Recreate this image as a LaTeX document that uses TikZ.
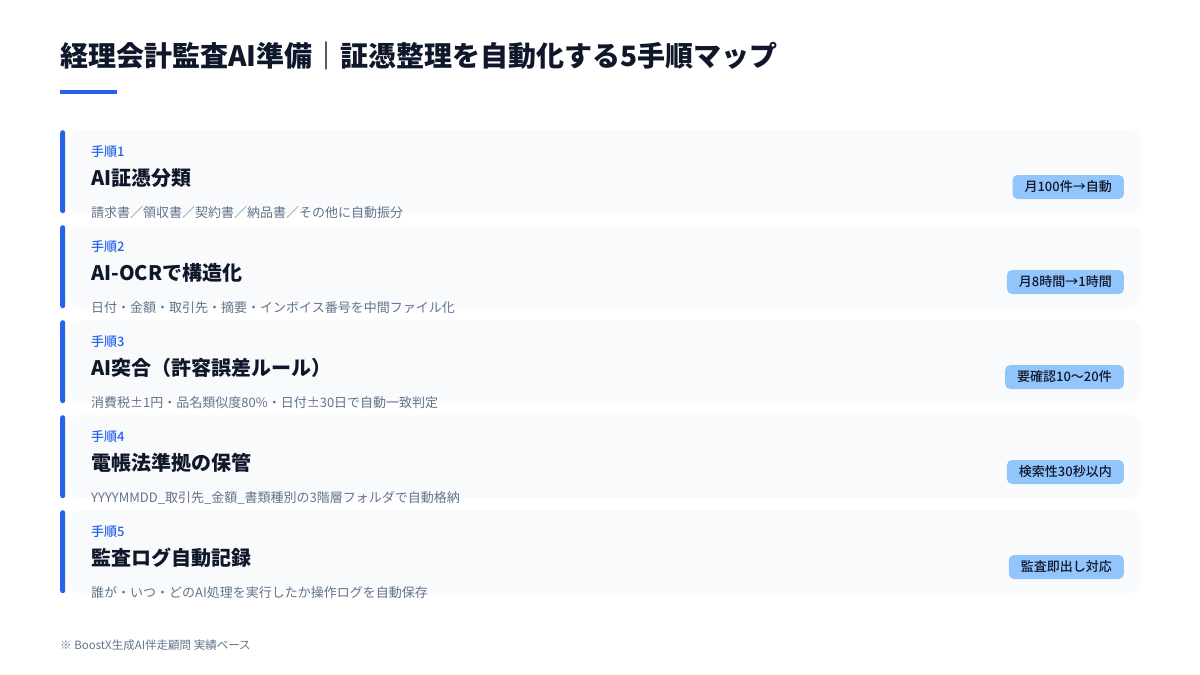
\documentclass[tikz,border=0pt]{standalone}
\usepackage{fontspec}
\setmainfont{Noto Sans CJK JP}
\newfontfamily\mediumfont{Noto Sans CJK JP Medium}
\usetikzlibrary{positioning}

\definecolor{accent}{HTML}{2563EB}
\definecolor{ink}{HTML}{0F172A}
\definecolor{muted}{HTML}{64748B}
\definecolor{cardbg}{HTML}{F8FAFC}
\definecolor{badgebg}{HTML}{93C5FD}

\tikzset{
  card/.style={fill=cardbg, rounded corners=10pt, minimum width=1070pt, minimum height=83pt, anchor=north west, inner sep=0pt},
  bar/.style={fill=accent, rounded corners=2.5pt, minimum width=5pt, minimum height=83pt, anchor=north west, inner sep=0pt},
  steplabel/.style={anchor=west, inner sep=0pt, text=accent, font=\mediumfont\fontsize{13}{13}\selectfont},
  steptitle/.style={anchor=west, inner sep=0pt, text=ink, font=\bfseries\fontsize{20}{20}\selectfont},
  stepdesc/.style={anchor=west, inner sep=0pt, text=muted, font=\fontsize{13}{13}\selectfont},
  badge/.style={anchor=east, fill=badgebg, rounded corners=5pt, inner xsep=12pt, inner ysep=0pt, minimum height=24pt, text=ink, font=\mediumfont\fontsize{13}{13}\selectfont}
}

\begin{document}
\begin{tikzpicture}[x=1pt,y=-1pt]
\useasboundingbox[fill=white] (0,0) rectangle (1200,675);

% heading
\node[anchor=west, inner sep=0pt, text=ink, font=\bfseries\fontsize{28}{28}\selectfont] (heading) at (60,56) {経理会計監査AI準備｜証憑整理を自動化する5手順マップ};
\fill[accent] (60,90) rectangle (117,94);

% step 1
\node[card] (card1) at (70,130) {};
\node[bar] (bar1) at (60,130) {};
\node[steplabel] (label1) at (91,152) {手順1};
\node[steptitle] (title1) at (91,178) {AI証憑分類};
\node[stepdesc] (desc1) at (91,213) {請求書／領収書／契約書／納品書／その他に自動振分};
\node[badge] (badge1) at (1124,187) {月100件→自動};

% step 2
\node[card] (card2) at (70,225) {};
\node[bar] (bar2) at (60,225) {};
\node[steplabel] (label2) at (91,247) {手順2};
\node[steptitle] (title2) at (91,273) {AI-OCRで構造化};
\node[stepdesc] (desc2) at (91,308) {日付・金額・取引先・摘要・インボイス番号を中間ファイル化};
\node[badge] (badge2) at (1124,282) {月8時間→1時間};

% step 3
\node[card] (card3) at (70,320) {};
\node[bar] (bar3) at (60,320) {};
\node[steplabel] (label3) at (91,342) {手順3};
\node[steptitle] (title3) at (91,368) {AI突合（許容誤差ルール）};
\node[stepdesc] (desc3) at (91,403) {消費税±1円・品名類似度80\%・日付±30日で自動一致判定};
\node[badge] (badge3) at (1124,377) {要確認10〜20件};

% step 4
\node[card] (card4) at (70,415) {};
\node[bar] (bar4) at (60,415) {};
\node[steplabel] (label4) at (91,437) {手順4};
\node[steptitle] (title4) at (91,463) {電帳法準拠の保管};
\node[stepdesc] (desc4) at (91,498) {YYYYMMDD\_取引先\_金額\_書類種別の3階層フォルダで自動格納};
\node[badge] (badge4) at (1124,472) {検索性30秒以内};

% step 5
\node[card] (card5) at (70,510) {};
\node[bar] (bar5) at (60,510) {};
\node[steplabel] (label5) at (91,532) {手順5};
\node[steptitle] (title5) at (91,558) {監査ログ自動記録};
\node[stepdesc] (desc5) at (91,593) {誰が・いつ・どのAI処理を実行したか操作ログを自動保存};
\node[badge] (badge5) at (1124,567) {監査即出し対応};

% source note
\node[anchor=west, inner sep=0pt, text=muted, font=\fontsize{11.5}{11.5}\selectfont] (note) at (60,645) {※ BoostX生成AI伴走顧問 実績ベース};
\end{tikzpicture}
\end{document}
